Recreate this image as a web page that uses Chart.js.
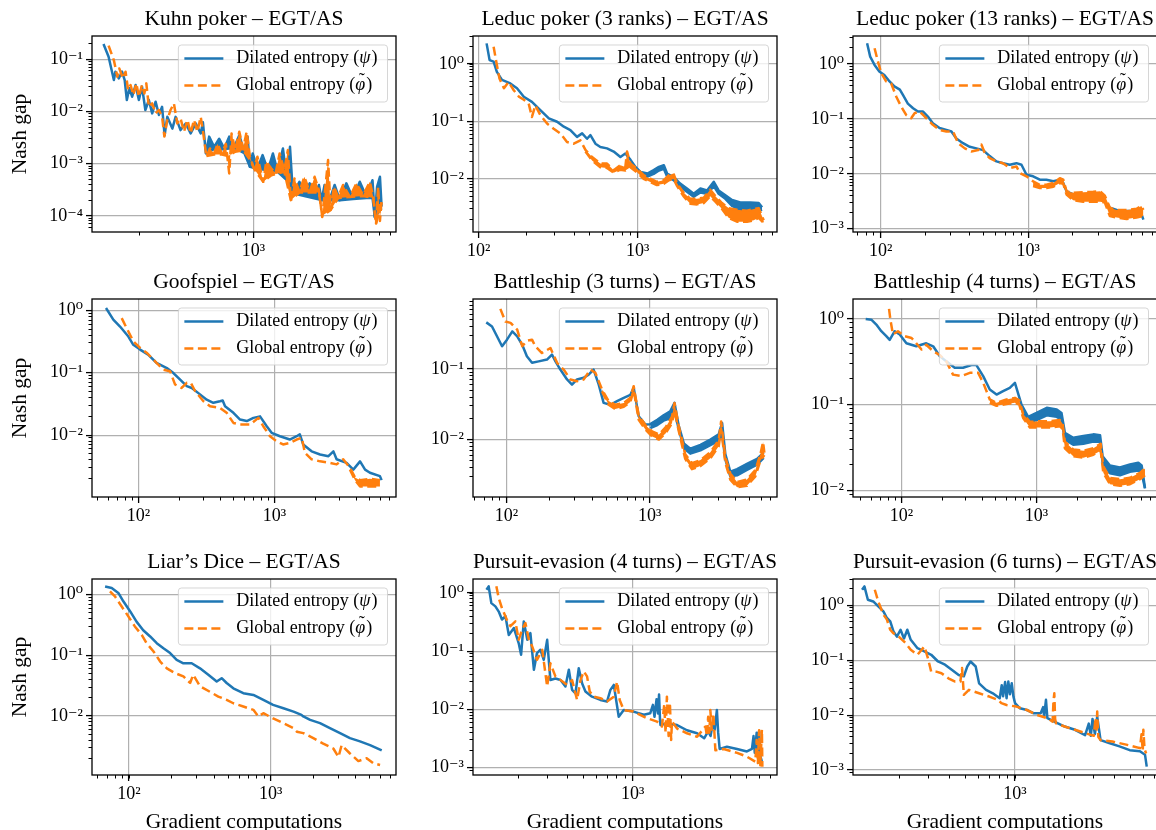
<!DOCTYPE html>
<html>
<head>
<meta charset="utf-8">
<script src="https://cdn.jsdelivr.net/npm/chart.js@4.4.1/dist/chart.umd.min.js"></script>
<style>
  html, body { margin: 0; padding: 0; background: #fff; width: 1156px; height: 830px; overflow: hidden; position: relative; }
  canvas.panel { position: absolute; display: block; }
</style>
</head>
<body>
<script>
"use strict";

// ---- data: [gradient computations, Nash gap] ----
// "Low" arrays are the lower edge of the noisy band, filled up to the main line.

const kuhnDilated = [[120,0.197],[129,0.112],[139,0.040],[142,0.058],[149,0.043],[156,0.058],[162,0.040],[167,0.0166],[173,0.0278],[180,0.0192],[189,0.0322],[198,0.0166],[207,0.030],[217,0.0107],[228,0.0166],[239,0.0092],[251,0.0154],[263,0.0086],[275,0.0123],[285,0.0035],[296,0.0079],[318,0.0047],[333,0.0079],[357,0.0044],[384,0.0059],[412,0.0038],[443,0.0059],[475,0.0038],[490,0.0062],[511,0.00157],[535,0.0033],[574,0.0021],[617,0.0030],[662,0.00196],[711,0.0033],[764,0.0021],[820,0.0035],[880,0.00169],[922,0.0033],[953,0.00087],[991,0.00157],[1060,0.00081],[1140,0.00146],[1230,0.00075],[1320,0.00157],[1410,0.0007],[1520,0.00196],[1610,0.00048],[1680,0.0021],[1750,0.00027],[1920,0.00045],[2060,0.00025],[2220,0.00042],[2380,0.00023],[2530,0.00039],[2630,0.0002],[2740,0.00039],[2940,0.0002],[3160,0.00039],[3400,0.0002],[3730,0.00042],[4100,0.000215],[4510,0.00045],[4960,0.00023],[5400,0.00048],[5580,0.000095],[5760,0.00036],[6000,0.00056],[6140,0.00015]];
const kuhnDilatedLow = [[511,0.0016],[574,0.0019],[662,0.0019],[764,0.0020],[880,0.0016],[953,0.00087],[1060,0.0008],[1230,0.00075],[1410,0.0007],[1610,0.00048],[1750,0.00027],[2060,0.00024],[2630,0.0002],[3400,0.0002],[4100,0.00021],[4960,0.00022],[5400,0.00022],[5580,0.000095],[6140,0.00014]];
const kuhnGlobal = [[129,0.183],[139,0.096],[146,0.0465],[150,0.067],[158,0.0432],[164,0.058],[170,0.0258],[176,0.0322],[183,0.0207],[191,0.0346],[198,0.0192],[207,0.0322],[214,0.0222],[220,0.0346],[228,0.0123],[239,0.0143],[251,0.0092],[263,0.0107],[275,0.0079],[284,0.0033],[296,0.0069],[310,0.0107],[325,0.0143],[341,0.0059],[357,0.0074],[375,0.0041],[394,0.0069],[412,0.0038],[432,0.0069],[453,0.0041],[475,0.0079],[491,0.0041],[515,0.00136],[541,0.00196],[574,0.00157],[602,0.0024],[641,0.00157],[678,0.0024],[711,0.00065],[735,0.0038],[774,0.00182],[820,0.0041],[867,0.00196],[910,0.0041],[953,0.00136],[1010,0.00081],[1060,0.00136],[1150,0.00045],[1200,0.00109],[1290,0.00081],[1370,0.00065],[1450,0.00157],[1550,0.00075],[1630,0.00182],[1700,0.0002],[1790,0.00052],[1920,0.00029],[2060,0.00056],[2220,0.00029],[2380,0.00056],[2530,0.00031],[2650,0.000095],[2780,0.00039],[2880,0.00117],[2990,0.00013],[3130,0.00036],[3320,0.00023],[3560,0.00039],[3920,0.00023],[4300,0.00042],[4730,0.00025],[5200,0.00045],[5460,0.00023],[5680,0.000071],[5850,0.00036],[6000,0.00008],[6140,0.0002]];
const kuhnGlobalLow = [[515,0.0014],[574,0.0015],[641,0.0015],[700,0.0014],[774,0.0017],[867,0.0018],[953,0.0012],[1010,0.0008],[1150,0.00045],[1290,0.0006],[1550,0.0007],[1700,0.0002],[1920,0.00028],[2530,0.00028],[2650,0.0001],[2990,0.00013],[3320,0.00022],[4730,0.00024],[5460,0.00022],[5680,0.00007],[6140,0.00018]];

const leduc3Dilated = [[112,2.29],[117,1.17],[124,1.10],[130,0.73],[140,0.53],[158,0.46],[174,0.38],[192,0.27],[216,0.22],[244,0.158],[276,0.113],[311,0.099],[343,0.081],[377,0.071],[415,0.054],[447,0.062],[480,0.050],[504,0.058],[542,0.041],[582,0.036],[641,0.034],[706,0.030],[778,0.024],[836,0.0277],[899,0.0217],[967,0.0162],[1040,0.0132],[1150,0.0124],[1260,0.0142],[1360,0.0162],[1460,0.0173],[1530,0.0124],[1680,0.0108],[1850,0.0083],[2040,0.0068],[2250,0.0055],[2480,0.0068],[2730,0.0063],[3010,0.0089],[3230,0.0063],[3560,0.0052],[3920,0.0043],[4420,0.0039],[5110,0.0039],[5770,0.0038],[6060,0.0032]];
const leduc3DilatedLow = [[1040,0.0118],[1150,0.0110],[1260,0.0122],[1360,0.0140],[1460,0.0150],[1530,0.0110],[1680,0.0095],[1850,0.0073],[2040,0.0060],[2250,0.0049],[2480,0.0058],[2730,0.0055],[3010,0.0075],[3230,0.0055],[3560,0.0045],[3920,0.0034],[4420,0.0029],[5110,0.0028],[5770,0.0028],[6060,0.0029]];
const leduc3Global = [[124,2.0],[130,0.96],[135,0.56],[144,0.38],[154,0.49],[166,0.35],[179,0.27],[192,0.24],[206,0.206],[216,0.12],[227,0.19],[244,0.129],[269,0.092],[296,0.075],[326,0.062],[359,0.044],[396,0.041],[436,0.047],[469,0.032],[516,0.024],[582,0.0185],[641,0.0185],[706,0.0142],[778,0.0173],[836,0.0162],[857,0.030],[899,0.0185],[990,0.0151],[1090,0.0116],[1200,0.0101],[1320,0.0089],[1460,0.0095],[1570,0.0116],[1680,0.0124],[1770,0.0083],[1940,0.0058],[2140,0.0045],[2360,0.0045],[2600,0.0047],[2860,0.0065],[3080,0.0050],[3390,0.0038],[3730,0.0031],[4210,0.0029],[4870,0.0028],[5370,0.0030],[5770,0.0031],[6200,0.0019]];
const leduc3GlobalLow = [[469,0.030],[516,0.021],[582,0.0160],[641,0.0155],[706,0.0128],[778,0.0145],[836,0.0140],[899,0.0160],[990,0.0130],[1090,0.0100],[1200,0.0088],[1320,0.0078],[1460,0.0082],[1570,0.0095],[1680,0.0100],[1770,0.0075],[1940,0.0050],[2140,0.0037],[2360,0.0036],[2600,0.0038],[2860,0.0050],[3080,0.0040],[3390,0.0030],[3730,0.0021],[4210,0.0018],[4870,0.0018],[5370,0.0019],[5770,0.0021],[6200,0.0017]];

const leduc13Dilated = [[81,2.38],[85,1.36],[91,0.96],[98,0.73],[106,0.63],[115,0.48],[124,0.39],[135,0.34],[142,0.27],[153,0.19],[166,0.156],[179,0.136],[194,0.136],[209,0.110],[226,0.083],[251,0.068],[279,0.063],[302,0.059],[326,0.044],[362,0.036],[402,0.031],[446,0.029],[495,0.027],[549,0.021],[610,0.0168],[676,0.0156],[751,0.0146],[833,0.0156],[901,0.0146],[975,0.0096],[1080,0.0090],[1200,0.0078],[1330,0.0078],[1480,0.0073],[1640,0.0078],[1730,0.0068],[1820,0.0048],[2020,0.0042],[2240,0.0039],[2620,0.0039],[3070,0.0039],[3310,0.0031],[3580,0.0024],[3980,0.0022],[4650,0.0021],[5430,0.0021],[5800,0.0020],[6040,0.00146]];
const leduc13Global = [[91,1.93],[96,1.10],[101,0.68],[109,0.48],[118,0.44],[128,0.25],[138,0.167],[149,0.118],[161,0.103],[170,0.127],[184,0.136],[194,0.118],[209,0.096],[226,0.078],[251,0.063],[279,0.059],[310,0.059],[335,0.036],[372,0.029],[412,0.0255],[458,0.027],[482,0.034],[508,0.024],[549,0.0193],[610,0.0168],[676,0.0156],[751,0.0127],[833,0.0136],[879,0.0103],[975,0.0090],[1080,0.0073],[1200,0.0063],[1330,0.0063],[1480,0.0068],[1640,0.0083],[1730,0.0078],[1820,0.0048],[2020,0.0045],[2360,0.0046],[2760,0.0047],[3070,0.0048],[3310,0.0040],[3580,0.0024],[3980,0.0022],[4650,0.0022],[5430,0.0023],[5850,0.0026],[6040,0.0022]];
const leduc13GlobalLow = [[1080,0.0060],[1200,0.0055],[1330,0.0055],[1480,0.0058],[1640,0.0068],[1730,0.0066],[1820,0.0042],[2020,0.0033],[2360,0.0031],[2760,0.0031],[3070,0.0031],[3310,0.0030],[3580,0.0017],[3980,0.0016],[4650,0.0015],[5430,0.0016],[6040,0.0017]];

const goofDilated = [[57.8,1.09],[65.4,0.71],[73.3,0.55],[84.4,0.38],[91.8,0.28],[103,0.235],[118,0.195],[136,0.144],[162,0.119],[181,0.099],[202,0.078],[227,0.061],[247,0.057],[284,0.045],[318,0.037],[356,0.033],[398,0.035],[417,0.036],[434,0.029],[500,0.0228],[560,0.0178],[627,0.0168],[702,0.0189],[785,0.020],[879,0.0139],[955,0.0109],[1100,0.0096],[1300,0.0085],[1460,0.0096],[1540,0.0103],[1630,0.0071],[1880,0.0055],[2170,0.0049],[2500,0.0046],[2720,0.0055],[2870,0.0041],[3400,0.0036],[3810,0.0028],[4270,0.0038],[4650,0.0028],[5050,0.0025],[5980,0.0022],[6150,0.0019]];
const goofGlobal = [[75.4,0.75],[82,0.52],[91.8,0.32],[103,0.25],[115,0.21],[136,0.144],[153,0.112],[171,0.106],[186,0.065],[208,0.057],[227,0.069],[243,0.069],[261,0.051],[301,0.035],[337,0.029],[398,0.0274],[446,0.0228],[500,0.0157],[560,0.0148],[663,0.0148],[763,0.0189],[829,0.0139],[929,0.0096],[1040,0.0080],[1160,0.0071],[1300,0.0075],[1460,0.0085],[1590,0.0091],[1680,0.0052],[1880,0.0041],[2170,0.0038],[2560,0.0036],[2870,0.0034],[3210,0.0041],[3600,0.0030],[3920,0.0021],[4270,0.0019],[5050,0.0020],[5980,0.0019]];
const goofGlobalLow = [[3600,0.0028],[3920,0.0019],[4270,0.0015],[5050,0.0015],[5980,0.0015]];

const bs3Dilated = [[72.4,0.457],[79.4,0.40],[86,0.29],[93.3,0.21],[101,0.26],[110,0.34],[119,0.29],[129,0.22],[139,0.151],[151,0.122],[168,0.128],[192,0.136],[208,0.160],[220,0.128],[238,0.098],[265,0.071],[287,0.060],[311,0.071],[346,0.075],[375,0.083],[406,0.098],[441,0.060],[477,0.033],[532,0.031],[592,0.035],[659,0.039],[733,0.043],[773,0.054],[838,0.0214],[933,0.0163],[1010,0.0165],[1130,0.019],[1250,0.022],[1390,0.025],[1490,0.033],[1590,0.016],[1730,0.0088],[1920,0.0074],[2260,0.0084],[2650,0.010],[3030,0.0118],[3200,0.0172],[3370,0.0062],[3650,0.0035],[4070,0.0038],[4770,0.0045],[5610,0.0053],[6240,0.0065]];
const bs3DilatedLow = [[1010,0.0145],[1130,0.016],[1250,0.0185],[1390,0.020],[1490,0.025],[1590,0.0145],[1730,0.0075],[1920,0.0063],[2260,0.0070],[2650,0.0083],[3030,0.0096],[3200,0.012],[3370,0.0052],[3650,0.0030],[4070,0.0031],[4770,0.0037],[5610,0.0044],[6240,0.0055]];
const bs3Global = [[90.8,0.71],[98.4,0.47],[107,0.45],[119,0.36],[129,0.21],[139,0.25],[151,0.26],[159,0.21],[177,0.168],[203,0.198],[226,0.122],[251,0.098],[280,0.071],[311,0.067],[346,0.071],[386,0.098],[418,0.088],[465,0.051],[517,0.035],[576,0.031],[659,0.033],[733,0.039],[773,0.057],[838,0.022],[933,0.016],[1040,0.013],[1160,0.0118],[1290,0.0148],[1430,0.021],[1490,0.033],[1590,0.016],[1770,0.0062],[1970,0.0046],[2260,0.0051],[2650,0.0066],[3030,0.0098],[3150,0.018],[3370,0.0056],[3650,0.0033],[4070,0.0025],[4770,0.0027],[5460,0.0037],[5920,0.0062],[6180,0.0092],[6310,0.0065]];
const bs3GlobalLow = [[465,0.048],[517,0.031],[576,0.027],[659,0.029],[733,0.034],[773,0.050],[838,0.019],[933,0.0138],[1040,0.011],[1160,0.0100],[1290,0.0122],[1430,0.017],[1490,0.026],[1590,0.0135],[1770,0.0053],[1970,0.0038],[2260,0.0042],[2650,0.0054],[3030,0.0080],[3150,0.014],[3370,0.0047],[3650,0.0027],[4070,0.0021],[4770,0.0022],[5460,0.0030],[5920,0.0050],[6310,0.0060]];

const bs4Dilated = [[54.5,1.0],[60,0.98],[65.3,0.86],[71.1,0.72],[77.4,0.63],[82,0.57],[89.3,0.72],[97.3,0.66],[109,0.52],[129,0.48],[153,0.52],[172,0.48],[192,0.37],[215,0.32],[248,0.27],[286,0.27],[330,0.29],[359,0.29],[403,0.215],[451,0.150],[506,0.131],[566,0.144],[634,0.157],[692,0.180],[774,0.10],[867,0.072],[1000,0.080],[1190,0.092],[1410,0.088],[1530,0.080],[1620,0.047],[1870,0.041],[2220,0.043],[2630,0.045],[2950,0.044],[3080,0.025],[3490,0.0195],[4140,0.0185],[4910,0.020],[5660,0.021],[5990,0.0195],[6340,0.0107]];
const bs4DilatedLow = [[774,0.092],[867,0.062],[1000,0.066],[1190,0.075],[1410,0.072],[1530,0.067],[1620,0.039],[1870,0.034],[2220,0.035],[2630,0.037],[2950,0.037],[3080,0.021],[3490,0.0158],[4140,0.015],[4910,0.0165],[5660,0.017],[5990,0.016],[6340,0.0105]];
const bs4Global = [[81.1,1.31],[83,0.98],[86.7,0.66],[94.4,0.72],[106,0.63],[119,0.60],[129,0.52],[141,0.44],[153,0.50],[172,0.42],[192,0.38],[215,0.32],[241,0.224],[278,0.215],[321,0.235],[370,0.235],[403,0.180],[451,0.115],[506,0.105],[600,0.115],[692,0.120],[745,0.112],[796,0.078],[893,0.063],[1060,0.064],[1260,0.064],[1490,0.066],[1560,0.060],[1620,0.037],[1870,0.030],[2220,0.029],[2630,0.031],[2980,0.035],[3120,0.019],[3490,0.014],[4140,0.0135],[4910,0.014],[5820,0.016],[6340,0.018]];
const bs4GlobalLow = [[451,0.105],[506,0.097],[600,0.102],[692,0.105],[745,0.100],[796,0.070],[893,0.054],[1060,0.054],[1260,0.054],[1490,0.056],[1560,0.052],[1620,0.031],[1870,0.025],[2220,0.024],[2630,0.026],[2980,0.029],[3120,0.016],[3490,0.0118],[4140,0.0113],[4910,0.0118],[5820,0.0135],[6340,0.015]];

const liarsDilated = [[67.8,1.37],[75.5,1.29],[84.1,1.07],[91.2,0.78],[102,0.53],[113,0.36],[126,0.26],[141,0.205],[157,0.159],[175,0.131],[195,0.109],[217,0.084],[242,0.074],[277,0.074],[317,0.061],[363,0.048],[416,0.037],[451,0.042],[489,0.035],[545,0.0286],[641,0.0237],[755,0.0222],[888,0.0184],[1040,0.0152],[1230,0.0134],[1450,0.0118],[1650,0.0104],[1700,0.0098],[1900,0.0086],[2230,0.0076],[2620,0.0063],[3090,0.0052],[3630,0.0043],[4270,0.0038],[5030,0.0033],[6080,0.0027]];
const liarsGlobal = [[73.4,1.14],[79.6,0.94],[88.8,0.64],[98.9,0.44],[110,0.30],[123,0.218],[133,0.159],[149,0.116],[166,0.079],[185,0.061],[211,0.051],[242,0.045],[270,0.035],[284,0.048],[317,0.031],[373,0.025],[427,0.0209],[489,0.0184],[545,0.0162],[641,0.0143],[755,0.0126],[819,0.0098],[888,0.0111],[1040,0.0091],[1230,0.0076],[1450,0.0063],[1530,0.0055],[1700,0.0052],[2000,0.0043],[2350,0.0035],[2770,0.0029],[3010,0.0021],[3170,0.0033],[3630,0.0024],[4160,0.0018],[4760,0.0020],[5310,0.00165],[5920,0.00155]];

const pe4Dilated = [[127,1.14],[131,1.30],[136,0.67],[144,0.59],[151,0.48],[158,0.35],[166,0.40],[174,0.19],[187,0.25],[200,0.138],[207,0.087],[215,0.325],[226,0.157],[236,0.205],[248,0.048],[259,0.093],[272,0.106],[285,0.071],[299,0.157],[313,0.032],[336,0.034],[361,0.032],[387,0.0248],[406,0.048],[425,0.0217],[446,0.019],[467,0.051],[490,0.028],[513,0.0203],[563,0.0166],[634,0.0146],[696,0.0137],[730,0.0217],[766,0.0264],[794,0.0137],[821,0.0075],[881,0.0098],[1010,0.0092],[1170,0.0081],[1280,0.0086],[1330,0.012],[1360,0.0075],[1400,0.015],[1430,0.0085],[1450,0.018],[1470,0.0065],[1480,0.0054],[1620,0.0058],[1870,0.0054],[2150,0.0044],[2480,0.0039],[2740,0.0032],[2900,0.0042],[3000,0.0035],[3100,0.006],[3180,0.0045],[3280,0.0098],[3340,0.004],[3410,0.0021],[3780,0.0023],[4360,0.0021],[5010,0.0019],[5380,0.0021],[5500,0.0035],[5600,0.0018],[5750,0.0040],[5850,0.0020],[5950,0.0042],[6050,0.0016],[6190,0.00127]];
const pe4Global = [[146,1.30],[151,0.82],[158,0.55],[169,0.35],[178,0.27],[191,0.325],[200,0.157],[210,0.234],[220,0.305],[231,0.157],[242,0.121],[259,0.071],[279,0.106],[299,0.0248],[313,0.062],[336,0.037],[361,0.032],[396,0.0264],[425,0.032],[456,0.0146],[479,0.032],[501,0.045],[525,0.037],[545,0.0203],[577,0.0166],[634,0.0156],[696,0.0137],[766,0.0166],[802,0.030],[832,0.0146],[881,0.0098],[1010,0.0092],[1220,0.0071],[1410,0.0062],[1510,0.0051],[1560,0.012],[1590,0.004],[1620,0.0166],[1660,0.0035],[1690,0.013],[1720,0.003],[1740,0.0062],[1870,0.0047],[2150,0.0039],[2480,0.0034],[2790,0.0051],[2850,0.0035],[2900,0.0075],[2950,0.004],[2990,0.0098],[3050,0.0045],[3120,0.0085],[3210,0.0020],[3610,0.0021],[4360,0.0018],[5010,0.00155],[5640,0.00127],[5750,0.003],[5850,0.0012],[5950,0.0044],[6050,0.0011],[6190,0.0045],[6230,0.00104]];

const pe6Dilated = [[118,1.93],[122,2.22],[128,1.27],[138,1.18],[148,0.96],[159,0.78],[167,0.59],[175,0.51],[183,0.335],[192,0.27],[202,0.36],[212,0.25],[222,0.36],[233,0.236],[256,0.166],[282,0.145],[310,0.126],[341,0.095],[376,0.083],[413,0.067],[455,0.054],[489,0.051],[513,0.077],[537,0.095],[577,0.077],[605,0.038],[667,0.0289],[733,0.025],[807,0.0203],[830,0.035],[846,0.022],[870,0.040],[888,0.0203],[910,0.041],[931,0.024],[955,0.038],[977,0.022],[1000,0.0165],[1070,0.0133],[1180,0.0124],[1300,0.0108],[1430,0.0108],[1480,0.014],[1500,0.0095],[1540,0.019],[1570,0.0088],[1730,0.0076],[2000,0.0062],[2310,0.0054],[2660,0.0043],[2800,0.0070],[2880,0.0042],[2950,0.0085],[3050,0.0045],[3150,0.0094],[3300,0.0035],[3720,0.0031],[4300,0.0027],[4960,0.0023],[5720,0.0022],[6140,0.0019],[6290,0.00115]];
const pe6Global = [[141,1.93],[148,1.18],[159,0.68],[167,0.55],[175,0.36],[183,0.31],[197,0.27],[217,0.205],[233,0.155],[256,0.126],[282,0.178],[296,0.109],[310,0.062],[333,0.062],[358,0.058],[394,0.047],[433,0.041],[466,0.041],[477,0.072],[489,0.0234],[525,0.0289],[605,0.025],[698,0.0218],[787,0.019],[826,0.0165],[888,0.0153],[1020,0.0143],[1180,0.0124],[1360,0.0101],[1570,0.0088],[1690,0.0076],[1710,0.018],[1730,0.025],[1750,0.0085],[1770,0.0071],[2000,0.0062],[2310,0.0054],[2660,0.0047],[3000,0.0042],[3080,0.009],[3120,0.005],[3150,0.0116],[3200,0.004],[3300,0.0035],[3900,0.0033],[4720,0.0029],[5720,0.0025],[5850,0.0045],[5950,0.0022],[6000,0.0054],[6100,0.0024],[6240,0.0020]];

const seriesNames = ["Dilated entropy", "Global entropy"];
const seriesSymbols = ["ψ", "φ"];
const seriesAccents = ["", "˜"];

const panels = [
  { title: "Kuhn poker – EGT/AS", dilated: kuhnDilated, dilatedLow: kuhnDilatedLow, global: kuhnGlobal, globalLow: kuhnGlobalLow, x: [102, 7530], y: [4.9e-5, 0.28] },
  { title: "Leduc poker (3 ranks) – EGT/AS", dilated: leduc3Dilated, dilatedLow: leduc3DilatedLow, global: leduc3Global, globalLow: leduc3GlobalLow, x: [92, 7520], y: [0.00119, 3.08] },
  { title: "Leduc poker (13 ranks) – EGT/AS", dilated: leduc13Dilated, dilatedLow: [], global: leduc13Global, globalLow: leduc13GlobalLow, x: [65, 7470], y: [8.7e-4, 3.23] },
  { title: "Goofspiel – EGT/AS", dilated: goofDilated, dilatedLow: [], global: goofGlobal, globalLow: goofGlobalLow, x: [45.6, 7850], y: [0.00102, 1.52] },
  { title: "Battleship (3 turns) – EGT/AS", dilated: bs3Dilated, dilatedLow: bs3DilatedLow, global: bs3Global, globalLow: bs3GlobalLow, x: [58.5, 7730], y: [0.00153, 0.98] },
  { title: "Battleship (4 turns) – EGT/AS", dilated: bs4Dilated, dilatedLow: bs4DilatedLow, global: bs4Global, globalLow: bs4GlobalLow, x: [43.9, 7780], y: [0.00836, 1.71] },
  { title: "Liar’s Dice – EGT/AS", dilated: liarsDilated, dilatedLow: [], global: liarsGlobal, globalLow: [], x: [54.8, 7670], y: [0.00106, 1.82] },
  { title: "Pursuit-evasion (4 turns) – EGT/AS", dilated: pe4Dilated, dilatedLow: [], global: pe4Global, globalLow: [], x: [105, 7660], y: [7.5e-4, 1.74] },
  { title: "Pursuit-evasion (6 turns) – EGT/AS", dilated: pe6Dilated, dilatedLow: [], global: pe6Global, globalLow: [], x: [104, 7260], y: [8.1e-4, 3.03] },
];

// ---- layout / style ----
const BLUE = "#1f77b4";
const ORANGE = "#ff7f0e";
const FONT = "'Liberation Serif', 'DejaVu Serif', serif";
const DASH = [9, 4.5];

const plotLeft = [92, 473, 853];
const plotTop = [36, 299, 579];
const plotHeight = [196, 198, 196];
const plotWidth = 304;
const padLeft = 92, padRight = 12, padTop = 36;

Chart.defaults.color = "#000";
Chart.defaults.font.family = FONT;

const SUP = { "-": "⁻", "0": "⁰", "1": "¹", "2": "²", "3": "³", "4": "⁴", "5": "⁵" };

function isDecade(v) {
  const l = Math.log10(v);
  return Math.abs(l - Math.round(l)) < 1e-6;
}

function isWhole(v) {
  const s = v / Math.pow(10, Math.floor(Math.log10(v) + 1e-9));
  return Math.abs(s - Math.round(s)) < 1e-6;
}

function decadeLabel(v) {
  const e = String(Math.round(Math.log10(v)));
  return "10" + e.split("").map(c => SUP[c]).join("");
}

function logAxes(axis, range, size, title) {
  const horizontal = axis === "x";
  const position = horizontal ? "bottom" : "left";
  const major = {
    type: "logarithmic",
    position,
    min: range[0],
    max: range[1],
    border: { display: false },
    grid: {
      color: c => (c.tick && isDecade(c.tick.value) ? "#b0b0b0" : "rgba(0,0,0,0)"),
      lineWidth: 1.2,
      tickColor: c => (c.tick && isDecade(c.tick.value) ? "#000" : "rgba(0,0,0,0)"),
      tickLength: 6,
      tickWidth: 1.3,
    },
    ticks: {
      autoSkip: false,
      maxRotation: 0,
      padding: horizontal ? 2 : 3,
      font: { family: FONT, size: 18 },
      callback: v => (isDecade(v) ? decadeLabel(v) : ""),
    },
    afterFit: s => {
      if (horizontal) s.height = size; else s.width = size;
    },
  };
  if (title) {
    major.title = {
      display: true,
      text: title,
      font: { family: FONT, size: 21.5 },
      padding: horizontal ? { top: 0, bottom: 0 } : { top: 7, bottom: 0 },
    };
  }
  const minor = {
    type: "logarithmic",
    position,
    min: range[0],
    max: range[1],
    weight: -1,
    border: { display: false },
    grid: {
      drawOnChartArea: false,
      tickLength: 3.5,
      tickWidth: 1,
      tickColor: c => (c.tick && isWhole(c.tick.value) ? "#000" : "rgba(0,0,0,0)"),
    },
    ticks: { display: false, autoSkip: false },
    afterFit: s => {
      if (horizontal) s.height = 0; else s.width = 0;
    },
  };
  return [major, minor];
}

function lineDataset(points, color, dashed, order, fill) {
  return {
    data: points.map(p => ({ x: p[0], y: p[1] })),
    borderColor: color,
    backgroundColor: color,
    borderWidth: 2.5,
    borderDash: dashed ? DASH : [],
    borderJoinStyle: "round",
    borderCapStyle: "butt",
    pointRadius: 0,
    tension: 0,
    order,
    fill,
  };
}

function roundedBox(ctx, x, y, w, h, r) {
  ctx.beginPath();
  ctx.moveTo(x + r, y);
  ctx.arcTo(x + w, y, x + w, y + h, r);
  ctx.arcTo(x + w, y + h, x, y + h, r);
  ctx.arcTo(x, y + h, x, y, r);
  ctx.arcTo(x, y, x + w, y, r);
  ctx.closePath();
}

// axes frame + legend box in the upper right of the plot
const frameAndLegend = {
  id: "frameAndLegend",
  afterDatasetsDraw(chart) {
    const { ctx, chartArea: a } = chart;
    ctx.save();
    ctx.strokeStyle = "#000";
    ctx.lineWidth = 1.3;
    ctx.strokeRect(a.left, a.top, a.right - a.left, a.bottom - a.top);

    const font = "18px " + FONT;
    const italic = "italic 18px " + FONT;
    const parts = seriesNames.map((name, i) => {
      ctx.font = font;
      const w1 = ctx.measureText(name + " (").width;
      const w3 = ctx.measureText(")").width;
      ctx.font = italic;
      const w2 = ctx.measureText(seriesSymbols[i]).width + 1;
      return { name, w1, w2, w3 };
    });
    const textW = Math.max(...parts.map(p => p.w1 + p.w2 + p.w3));
    const boxW = 58 + textW + 10;
    const boxH = 57;
    const right = a.right - 8.5;
    const top = a.top + 9;
    const left = right - boxW;

    roundedBox(ctx, left, top, boxW, boxH, 3);
    ctx.fillStyle = "rgba(255,255,255,0.8)";
    ctx.fill();
    ctx.strokeStyle = "rgba(204,204,204,0.8)";
    ctx.lineWidth = 1;
    ctx.stroke();

    const colors = [BLUE, ORANGE];
    parts.forEach((p, i) => {
      const y = top + 13.5 + i * 27;
      ctx.beginPath();
      ctx.setLineDash(i === 1 ? DASH : []);
      ctx.strokeStyle = colors[i];
      ctx.lineWidth = 2.5;
      ctx.moveTo(left + 6, y);
      ctx.lineTo(left + 45, y);
      ctx.stroke();
      ctx.setLineDash([]);

      ctx.fillStyle = "#000";
      ctx.textBaseline = "middle";
      ctx.textAlign = "left";
      let x = left + 58;
      ctx.font = font;
      ctx.fillText(p.name + " (", x, y);
      x += p.w1;
      ctx.font = italic;
      ctx.fillText(seriesSymbols[i], x, y);
      if (seriesAccents[i]) {
        ctx.textAlign = "center";
        ctx.font = font;
        ctx.fillText(seriesAccents[i], x + p.w2 / 2 + 1, y - 4);
        ctx.textAlign = "left";
      }
      x += p.w2;
      ctx.font = font;
      ctx.fillText(")", x, y);
    });
    ctx.restore();
  },
};

panels.forEach((p, i) => {
  const col = i % 3;
  const row = Math.floor(i / 3);
  const padBottom = row === 2 ? 60 : 30;

  const canvas = document.createElement("canvas");
  canvas.className = "panel";
  canvas.width = padLeft + plotWidth + padRight;
  canvas.height = padTop + plotHeight[row] + padBottom;
  canvas.style.left = (plotLeft[col] - padLeft) + "px";
  canvas.style.top = (plotTop[row] - padTop) + "px";
  document.body.appendChild(canvas);

  const [x, xMinor] = logAxes("x", p.x, padBottom, row === 2 ? "Gradient computations" : null);
  const [y, yMinor] = logAxes("y", p.y, padLeft, col === 0 ? "Nash gap" : null);

  new Chart(canvas.getContext("2d"), {
    type: "line",
    data: {
      datasets: [
        lineDataset(p.dilated, BLUE, false, 1, false),
        lineDataset(p.dilatedLow, BLUE, false, 1, 0),
        lineDataset(p.global, ORANGE, true, 0, false),
        lineDataset(p.globalLow, ORANGE, true, 0, 2),
      ],
    },
    options: {
      responsive: false,
      animation: false,
      events: [],
      layout: { padding: { top: 0, left: 0, right: padRight, bottom: 0 } },
      scales: { x, xMinor, y, yMinor },
      plugins: {
        legend: { display: false },
        tooltip: { enabled: false },
        title: {
          display: true,
          text: p.title,
          fullSize: false,
          color: "#000",
          font: { family: FONT, size: 21.5, weight: "normal" },
          padding: { top: 6.5, bottom: 3.7 },
        },
      },
    },
    plugins: [frameAndLegend],
  });
});
</script>
</body>
</html>
